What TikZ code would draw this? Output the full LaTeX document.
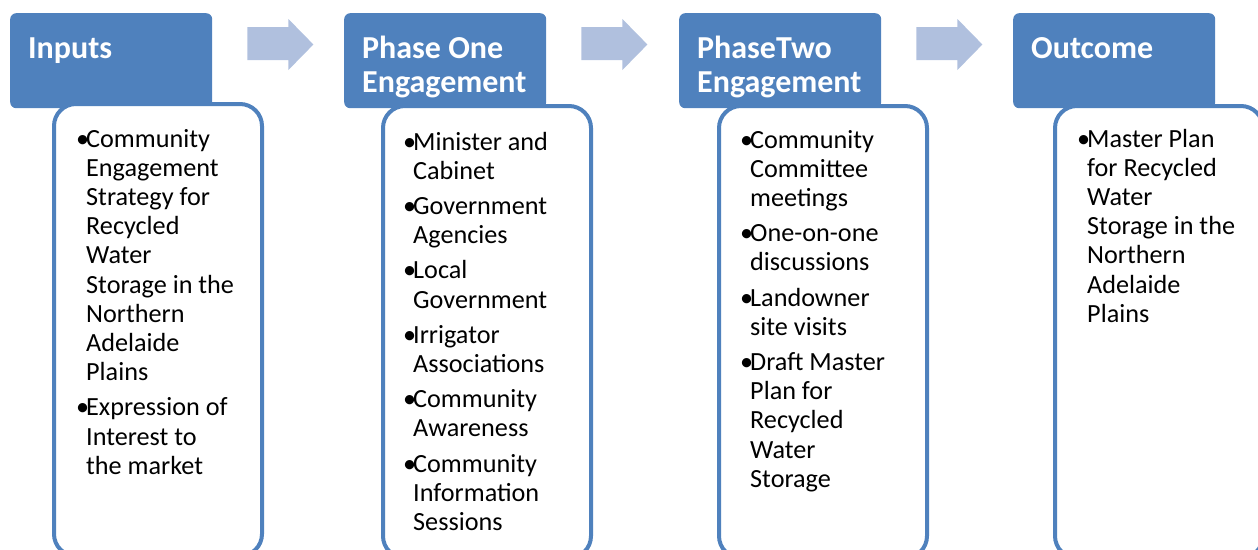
\documentclass[tikz,border=0pt]{standalone}
\usepackage{fontspec}
\setmainfont{Carlito}
\usetikzlibrary{calc}
\definecolor{hdrblue}{RGB}{79,129,189}
\definecolor{arrblue}{RGB}{176,192,222}
\newcommand\bl{\makebox[10pt][l]{•}}
\newcommand\nb{\hspace*{10pt}}
\newcommand\bodytext[1]{\parbox[t]{205pt}{\raggedright\fontsize{26.2pt}{29.2pt}\selectfont #1}}
\newcommand\hdrtext[1]{\parbox[t]{195pt}{\raggedright\fontsize{32pt}{34pt}\selectfont\bfseries #1}}
\tikzset{
  header/.style={fill=hdrblue, draw=none, rounded corners=6pt, minimum width=202pt, minimum height=95pt, anchor=north west, inner sep=0pt},
  bodybox/.style={fill=white, draw=hdrblue, line width=4pt, rounded corners=22pt, minimum width=208pt, minimum height=452pt, anchor=north west, inner sep=0pt},
  htext/.style={anchor=base west, inner sep=0pt, text=white},
  btext/.style={anchor=base west, inner sep=0pt, text=black},
  blockarrow/.style={fill=arrblue, draw=none}
}
\begin{document}
\begin{tikzpicture}[x=1pt,y=-1pt]
\useasboundingbox (0,0) rectangle (1258,549);
% headers
\node[header] (h1) at (10,13) {};
\node[header] (h2) at (344,13) {};
\node[header] (h3) at (679,13) {};
\node[header] (h4) at (1013,13) {};
% header texts
\node[htext] (t1) at (28,58) {\hdrtext{Inputs}};
\node[htext] (t2) at (362,58) {\hdrtext{Phase One\\Engagement}};
\node[htext] (t3) at (697,58) {\hdrtext{PhaseTwo\\Engagement}};
\node[htext] (t4) at (1031,58) {\hdrtext{Outcome}};
% block arrows between headers
\foreach \h in {h1,h2,h3}{
  \path[blockarrow] ([shift={(35,14)}]\h.north east) -- ([shift={(76,14)}]\h.north east)
    -- ([shift={(76,6)}]\h.north east) -- ([shift={(101,31.5)}]\h.north east)
    -- ([shift={(76,57)}]\h.north east) -- ([shift={(76,47)}]\h.north east)
    -- ([shift={(35,47)}]\h.north east) -- cycle;
}
% body boxes
\node[bodybox] (b1) at (52,102) {};
\node[bodybox] (b2) at (381,104) {};
\node[bodybox] (b3) at (717,104) {};
\node[bodybox] (b4) at (1053,104) {};
% body texts
\node[btext] (x1) at (76,147) {\bodytext{%
\bl Community\\
\nb Engagement\\
\nb Strategy for\\
\nb Recycled\\
\nb Water\\
\nb Storage in the\\
\nb Northern\\
\nb Adelaide\\
\nb Plains\\[6pt]
\bl Expression of\\
\nb Interest to\\
\nb the market}};
\node[btext] (x2) at (403,150) {\bodytext{%
\bl Minister and\\
\nb Cabinet\\[6pt]
\bl Government\\
\nb Agencies\\[6pt]
\bl Local\\
\nb Government\\[6pt]
\bl Irrigator\\
\nb Associations\\[6pt]
\bl Community\\
\nb Awareness\\[6pt]
\bl Community\\
\nb Information\\
\nb Sessions}};
\node[btext] (x3) at (740,148) {\bodytext{%
\bl Community\\
\nb Committee\\
\nb meetings\\[6pt]
\bl One-on-one\\
\nb discussions\\[6pt]
\bl Landowner\\
\nb site visits\\[6pt]
\bl Draft Master\\
\nb Plan for\\
\nb Recycled\\
\nb Water\\
\nb Storage}};
\node[btext] (x4) at (1077,147) {\bodytext{%
\bl Master Plan\\
\nb for Recycled\\
\nb Water\\
\nb Storage in the\\
\nb Northern\\
\nb Adelaide\\
\nb Plains}};
\end{tikzpicture}
\end{document}
